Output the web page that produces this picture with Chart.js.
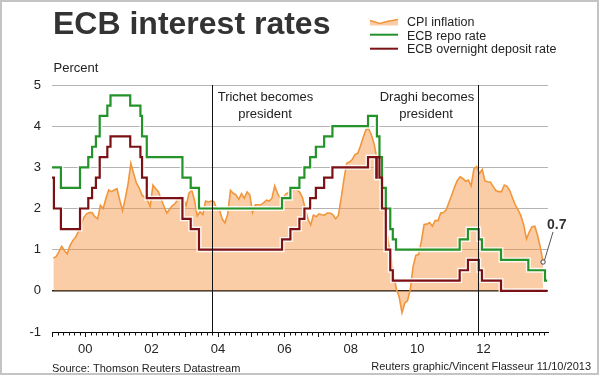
<!DOCTYPE html>
<html>
<head>
<meta charset="utf-8">
<script src="https://cdn.jsdelivr.net/npm/chart.js@4.4.0/dist/chart.umd.min.js"></script>
<style>
  html, body { margin: 0; padding: 0; background: #fff; }
  #wrap { position: relative; width: 600px; height: 376px; }
</style>
</head>
<body>
<div id="wrap"><canvas id="myChart" width="600" height="376"></canvas></div>
<script>
// Euro zone CPI inflation, monthly from Jan 1999 (% y/y)
const cpiStartYear = 1999;
const cpiInflation = [
  0.8, 0.83, 0.95, 1.08, 0.98, 0.9, 1.1, 1.22, 1.3, 1.44, 1.6, 1.78,
  1.87, 1.9, 1.9, 1.8, 1.75, 2.08, 2.0, 2.25, 2.45, 2.41, 2.45, 2.48,
  2.2, 1.95, 2.25, 2.6, 3.1, 2.85, 2.62, 2.5, 2.33, 2.27, 2.2, 2.05,
  2.57, 2.48, 2.4, 2.22, 2.05, 1.89, 1.98, 2.07, 2.12, 2.22, 2.29, 2.23,
  2.07, 2.37, 2.45, 2.2, 1.82, 1.92, 1.85, 2.18, 2.16, 2.18, 2.17, 2.0,
  1.97, 1.75, 1.65, 1.86, 2.44, 2.37, 2.33, 2.22, 2.36, 2.25, 2.4, 2.33,
  1.9, 2.09, 2.09, 2.09, 2.14, 2.2, 2.18, 2.25, 2.55, 2.37, 2.25, 2.25,
  2.35, 2.39, 2.41, 2.46, 2.46, 2.4, 2.27, 2.0, 1.75, 1.6, 1.84, 1.8,
  1.87, 1.85, 1.84, 1.89, 1.89, 1.85, 1.75, 1.83, 2.24, 2.7, 3.1, 3.13,
  3.19, 3.31, 3.34, 3.52, 3.73, 3.92, 3.93, 3.78, 3.55, 3.18, 2.76, 2.2,
  1.67, 1.2, 0.84, 0.38, 0.04, -0.15, -0.53, -0.3, -0.24, 0.03, 0.58, 0.86,
  0.88, 1.2, 1.61, 1.62, 1.66, 1.57, 1.71, 1.7, 1.89, 1.9, 1.97, 2.15,
  2.33, 2.52, 2.68, 2.77, 2.73, 2.66, 2.69, 2.55, 2.96, 3.02, 2.85, 2.95,
  2.67, 2.65, 2.64, 2.53, 2.43, 2.41, 2.41, 2.57, 2.54, 2.43, 2.25, 2.08,
  1.96, 1.82, 1.6, 1.26, 1.43, 1.56, 1.57, 1.35, 1.06, 0.7
];

// ECB main refinancing (repo) rate, date of each change
const repoDates = [
  '1999-01-01', '1999-04-09', '1999-11-05', '2000-02-04', '2000-03-17', '2000-04-28',
  '2000-06-09', '2000-09-01', '2000-10-06', '2001-05-11', '2001-08-31', '2001-09-18',
  '2001-11-09', '2002-12-06', '2003-03-07', '2003-06-06', '2005-12-06', '2006-03-08',
  '2006-06-15', '2006-08-09', '2006-10-11', '2006-12-13', '2007-03-14', '2007-06-13',
  '2008-07-09', '2008-10-15', '2008-11-12', '2008-12-10', '2009-01-21', '2009-03-11',
  '2009-04-08', '2009-05-13', '2011-04-13', '2011-07-13', '2011-11-09', '2011-12-14',
  '2012-07-11', '2013-05-08', '2013-11-07', '2013-12-01'
];
const repoRates = [
  3.0, 2.5, 3.0, 3.25, 3.5, 3.75,
  4.25, 4.5, 4.75, 4.5, 4.25, 3.75,
  3.25, 2.75, 2.5, 2.0, 2.25, 2.5,
  2.75, 3.0, 3.25, 3.5, 3.75, 4.0,
  4.25, 3.75, 3.25, 2.5, 2.0, 1.5,
  1.25, 1.0, 1.25, 1.5, 1.25, 1.0,
  0.75, 0.5, 0.25, 0.25
];

// ECB overnight deposit rate, date of each change
const depositDates = [
  '1999-01-01', '1999-01-22', '1999-04-09', '1999-11-05', '2000-02-04', '2000-03-17',
  '2000-04-28', '2000-06-09', '2000-09-01', '2000-10-06', '2001-05-11', '2001-08-31',
  '2001-09-18', '2001-11-09', '2002-12-06', '2003-03-07', '2003-06-06', '2005-12-06',
  '2006-03-08', '2006-06-15', '2006-08-09', '2006-10-11', '2006-12-13', '2007-03-14',
  '2007-06-13', '2008-07-09', '2008-10-08', '2008-10-13', '2008-11-12', '2008-12-10',
  '2009-01-21', '2009-03-11', '2009-04-08', '2011-04-13', '2011-07-13', '2011-11-09',
  '2011-12-14', '2012-07-11', '2013-12-01'
];
const depositRates = [
  2.75, 2.0, 1.5, 2.0, 2.25, 2.5,
  2.75, 3.25, 3.5, 3.75, 3.5, 3.25,
  2.75, 2.25, 1.75, 1.5, 1.0, 1.25,
  1.5, 1.75, 2.0, 2.25, 2.5, 2.75,
  3.0, 3.25, 2.75, 3.25, 2.75, 2.0,
  1.0, 0.5, 0.25, 0.5, 0.75, 0.5,
  0.25, 0.0, 0.0
];

const presidentDates = ['2003-11-01', '2011-11-01'];
const presidentLabels = [['Trichet becomes', 'president'], ['Draghi becomes', 'president']];

const xTickYears = [2000, 2002, 2004, 2006, 2008, 2010, 2012];
const yTickValues = [-1, 0, 1, 2, 3, 4, 5];
const lastCpiLabel = '0.7';

const FONT = "'Liberation Sans', Arial, sans-serif";
const GREEN = '#23932a';
const DARKRED = '#7b1115';
const ORANGE = '#f2963c';

function toYear(s) {
  const [y, m, d] = s.split('-').map(Number);
  const a = Date.UTC(y, 0, 1), b = Date.UTC(y + 1, 0, 1);
  return y + (Date.UTC(y, m - 1, d) - a) / (b - a);
}

const cpiPoints = cpiInflation.map((v, i) => ({ x: cpiStartYear + (i + 0.5) / 12, y: v }));
const repoPoints = repoDates.map((d, i) => ({ x: toYear(d), y: repoRates[i] }));
const depositPoints = depositDates.map((d, i) => ({ x: toYear(d), y: depositRates[i] }));

const decor = {
  id: 'decor',
  afterDatasetsDraw(chart) {
    const { ctx, chartArea, scales: { x } } = chart;
    ctx.save();
    ctx.strokeStyle = '#111';
    ctx.lineWidth = 1;
    presidentDates.forEach(d => {
      const px = Math.round(x.getPixelForValue(toYear(d))) + 0.5;
      ctx.beginPath();
      ctx.moveTo(px, chartArea.top);
      ctx.lineTo(px, chartArea.bottom);
      ctx.stroke();
    });
    ctx.restore();
  },
  afterDraw(chart) {
    const { ctx, chartArea, scales: { x, y } } = chart;
    ctx.save();

    // tick marks on the time axis, every two months
    ctx.strokeStyle = '#111';
    ctx.lineWidth = 1;
    for (let m = 0; cpiStartYear + m / 12 <= x.max; m += 2) {
      const px = Math.round(x.getPixelForValue(cpiStartYear + m / 12)) + 0.5;
      const len = m % 12 === 0 ? 5 : 3.5;
      ctx.beginPath();
      ctx.moveTo(px, chartArea.bottom);
      ctx.lineTo(px, chartArea.bottom + len);
      ctx.stroke();
    }

    // title and unit
    ctx.fillStyle = '#333';
    ctx.textAlign = 'left';
    ctx.textBaseline = 'alphabetic';
    ctx.font = 'bold 32px ' + FONT;
    ctx.fillText('ECB interest rates', 53, 33.5);
    ctx.fillStyle = '#222';
    ctx.font = '13px ' + FONT;
    ctx.fillText('Percent', 53.5, 72);

    // legend
    ctx.beginPath();
    ctx.moveTo(370, 20.5);
    ctx.lineTo(380, 23.5);
    ctx.lineTo(387, 21.5);
    ctx.lineTo(398, 19.5);
    ctx.lineTo(398, 25.5);
    ctx.lineTo(370, 25.5);
    ctx.closePath();
    ctx.fillStyle = 'rgba(244,145,60,0.45)';
    ctx.fill();
    ctx.beginPath();
    ctx.moveTo(370, 20.5);
    ctx.lineTo(380, 23.5);
    ctx.lineTo(387, 21.5);
    ctx.lineTo(398, 19.5);
    ctx.strokeStyle = ORANGE;
    ctx.lineWidth = 1.6;
    ctx.stroke();
    ctx.lineWidth = 2;
    ctx.strokeStyle = GREEN;
    ctx.beginPath(); ctx.moveTo(370, 34.7); ctx.lineTo(398, 34.7); ctx.stroke();
    ctx.strokeStyle = DARKRED;
    ctx.beginPath(); ctx.moveTo(370, 48.7); ctx.lineTo(398, 48.7); ctx.stroke();
    ctx.fillStyle = '#222';
    ctx.font = '12.5px ' + FONT;
    ctx.fillText('CPI inflation', 407, 26);
    ctx.fillText('ECB repo rate', 407, 39.5);
    ctx.fillText('ECB overnight deposit rate', 407, 53);

    // president annotations
    ctx.font = '13px ' + FONT;
    ctx.textAlign = 'center';
    ctx.fillText(presidentLabels[0][0], 265.5, 100.5);
    ctx.fillText(presidentLabels[0][1], 265, 117.5);
    ctx.fillText(presidentLabels[1][0], 427, 100.5);
    ctx.fillText(presidentLabels[1][1], 426, 117.5);

    // last value callout
    const last = cpiPoints[cpiPoints.length - 1];
    const lx = x.getPixelForValue(last.x), ly = y.getPixelForValue(last.y);
    ctx.strokeStyle = '#555';
    ctx.lineWidth = 1;
    ctx.beginPath();
    ctx.moveTo(553, 232);
    ctx.lineTo(lx + 1.5, ly - 2);
    ctx.stroke();
    ctx.beginPath();
    ctx.arc(lx, ly, 2.2, 0, Math.PI * 2);
    ctx.fillStyle = '#fff';
    ctx.fill();
    ctx.strokeStyle = '#444';
    ctx.stroke();
    ctx.fillStyle = '#333';
    ctx.font = 'bold 14px ' + FONT;
    ctx.textAlign = 'left';
    ctx.fillText(lastCpiLabel, 547, 229.3);

    // footer
    ctx.fillStyle = '#222';
    ctx.font = '11px ' + FONT;
    ctx.fillText('Source: Thomson Reuters Datastream', 52, 372);
    ctx.textAlign = 'right';
    ctx.fillText('Reuters graphic/Vincent Flasseur 11/10/2013', 591, 369.5);

    // frame
    ctx.strokeStyle = '#c4c4c4';
    ctx.lineWidth = 2;
    ctx.strokeRect(1, 1, 597, 373);
    ctx.restore();
  }
};

const ctx = document.getElementById('myChart').getContext('2d');
new Chart(ctx, {
  type: 'line',
  data: {
    datasets: [
      { label: 'ECB overnight deposit rate', data: depositPoints, stepped: true,
        borderColor: DARKRED, borderWidth: 2.2, pointRadius: 0, fill: false, order: 0 },
      { label: 'ECB repo rate', data: repoPoints, stepped: true,
        borderColor: GREEN, borderWidth: 2.2, pointRadius: 0, fill: false, order: 1 },
      { label: 'halo deposit', data: depositPoints, stepped: true,
        borderColor: 'rgba(255,255,255,0.85)', borderWidth: 5, pointRadius: 0, fill: false, order: 2 },
      { label: 'halo repo', data: repoPoints, stepped: true,
        borderColor: 'rgba(255,255,255,0.85)', borderWidth: 5, pointRadius: 0, fill: false, order: 3 },
      { label: 'CPI inflation', data: cpiPoints, tension: 0,
        borderColor: ORANGE, borderWidth: 1.6, pointRadius: 0,
        backgroundColor: 'rgba(244,145,60,0.45)', fill: { target: { value: 0 } }, order: 4 }
    ]
  },
  options: {
    responsive: false,
    animation: false,
    devicePixelRatio: 1,
    layout: { padding: { top: 85, right: 52, left: 0, bottom: 0 } },
    plugins: {
      legend: { display: false },
      tooltip: { enabled: false }
    },
    scales: {
      x: {
        type: 'linear',
        min: 1999,
        max: 2013.94,
        afterFit: (s) => { s.height = 44; },
        afterBuildTicks: (s) => { s.ticks = xTickYears.map(v => ({ value: v })); },
        ticks: {
          callback: (v) => String(v).slice(2),
          font: { family: FONT, size: 13 },
          color: '#222',
          padding: 2,
          maxRotation: 0,
          autoSkip: false
        },
        grid: { display: false },
        border: { display: true, color: '#000', width: 1 }
      },
      y: {
        min: -1,
        max: 5,
        afterFit: (s) => { s.width = 52; },
        afterBuildTicks: (s) => { s.ticks = yTickValues.map(v => ({ value: v })); },
        ticks: {
          callback: (v) => String(v),
          font: { family: FONT, size: 13 },
          color: '#222',
          padding: 11
        },
        grid: {
          drawTicks: false,
          color: (c) => c.tick.value === 0 ? '#1a1a1a' : (c.tick.value === -1 ? '#000' : '#b4b4b4'),
          lineWidth: (c) => c.tick.value === 0 ? 1.5 : 1
        },
        border: { display: false }
      }
    }
  },
  plugins: [decor]
});
</script>
</body>
</html>
